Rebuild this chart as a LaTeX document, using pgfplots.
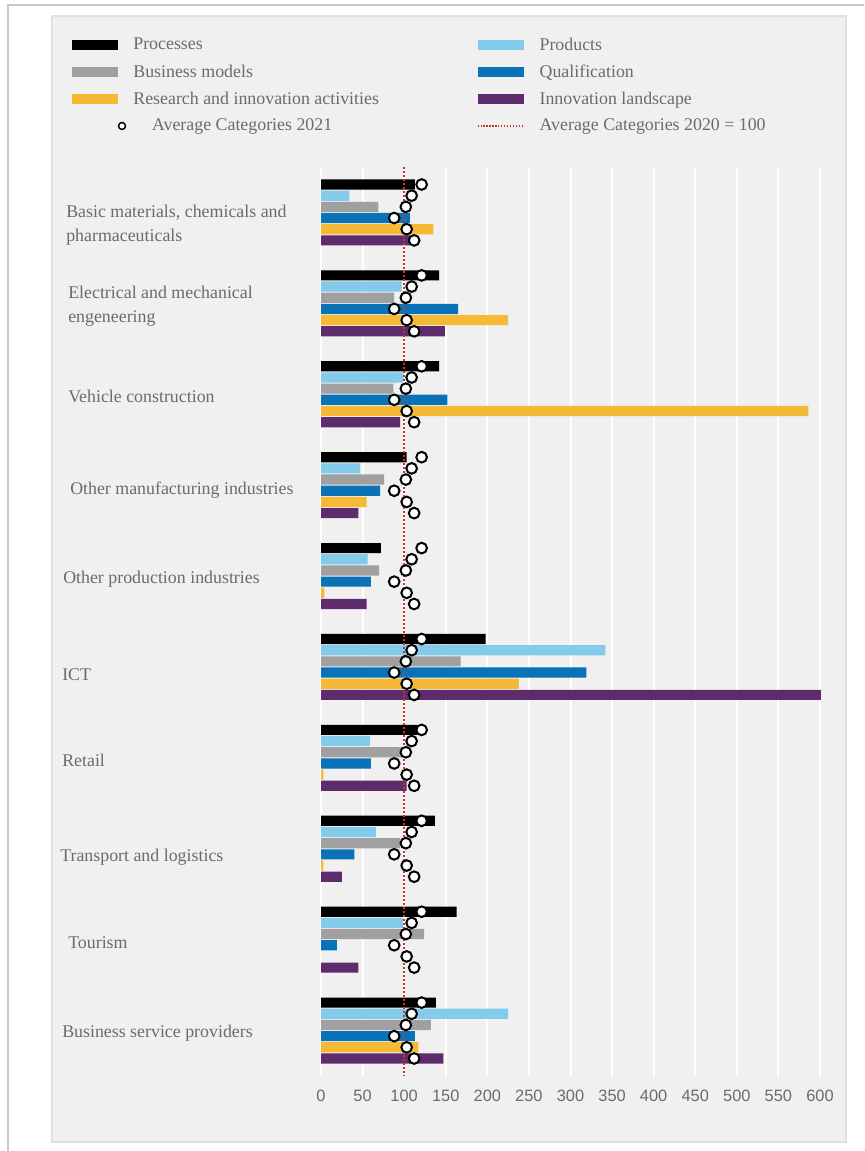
\documentclass[border=0pt]{standalone}
\usepackage{pgfplots}
\pgfplotsset{compat=1.18}
\usepackage{fontspec}
\setmainfont{Liberation Serif}
\newfontfamily\tickfont{Liberation Sans}
\definecolor{panel}{HTML}{F0F0F0}
\definecolor{panelborder}{HTML}{E0E0E0}
\definecolor{frameline}{HTML}{C8C8C8}
\definecolor{txt}{HTML}{6B6B6B}
\definecolor{cProc}{HTML}{000000}
\definecolor{cProd}{HTML}{82CBEA}
\definecolor{cBus}{HTML}{A0A0A0}
\definecolor{cQual}{HTML}{0A72B6}
\definecolor{cRes}{HTML}{F6B935}
\definecolor{cInn}{HTML}{5E2B6C}
\definecolor{cRed}{HTML}{C0392B}
\pgfplotsset{
  bleg/.style={legend image code/.code={\fill[#1] (0pt,-3.75pt) rectangle (34.5pt,3.75pt);}},
  mybar/.style={xbar, draw=none, fill=#1, bar width=0.112, bleg=#1},
}
\begin{document}
\begin{tikzpicture}
\useasboundingbox (0,0) rectangle (648pt,863.25pt);
\fill[white] (0,0) rectangle (648pt,863.25pt);
\draw[frameline, line width=1.5pt] (6pt,0) -- (6pt,859.5pt) -- (648pt,859.5pt);
\draw[panelborder, fill=panel, line width=1pt] (39pt,6.75pt) rectangle (634.5pt,851.25pt);
\begin{axis}[
  at={(240.75pt,56.25pt)}, anchor=south west,
  scale only axis, width=383.6pt, height=681.75pt,
  xmin=0, xmax=615, ymin=0.5, ymax=10.5, y dir=reverse,
  axis line style={draw=none},
  tick style={draw=none}, major tick length=0pt,
  xtick={0,50,...,600},
  xmajorgrids, grid style={white, line width=1.5pt},
  ytick={1,...,10},
  yticklabels={
    {\rule{0pt}{24pt}\hspace*{4.5pt}Basic materials, chemicals and\\\hspace*{4.5pt}pharmaceuticals},
    {\hspace*{6pt}Electrical and mechanical\\\hspace*{6pt}engeneering},
    {\hspace*{6pt}Vehicle construction},
    {\rule{0pt}{13pt}\hspace*{7.5pt}Other manufacturing industries},
    {\hspace*{2.25pt}Other production industries},
    {\rule{0pt}{17pt}\hspace*{1.5pt}ICT},
    {\hspace*{1.5pt}Retail},
    {\rule{0pt}{18pt}Transport and logistics},
    {\hspace*{6pt}Tourism},
    {\hspace*{1.5pt}Business service providers}},
  /pgf/number format/assume math mode=true,
  xticklabel style={font=\tickfont\fontsize{12.3}{14}\selectfont, text=txt, anchor=north, inner sep=0pt, yshift=-10pt},
  yticklabel style={font=\fontsize{13.4}{18}\selectfont, text=txt, anchor=west, align=left, inner sep=0pt, xshift=-195.75pt, yshift=-2pt},
  legend columns=2, legend cell align=left,
  legend style={draw=none, fill=none, at={(axis description cs:-0.4868,1.1452)}, anchor=north west,
    inner sep=0pt, outer sep=0pt, font=\fontsize{13.4}{16}\selectfont, text=txt, row sep=5.5pt,
    /tikz/every even column/.append style={column sep=71.5pt},
    /tikz/every odd column/.append style={column sep=9.5pt},
    /tikz/column 3/.append style={column sep=7.25pt}},
]
% order from top: Processes, Products, Business models, Qualification, Research, Innovation landscape
\addplot[mybar=cProc, bar shift=-0.3075] coordinates {
 (113,1) (142,2) (142,3) (103,4) (72,5) (198,6) (116,7) (137,8) (163,9) (138,10)};
\addlegendentry{Processes}
\addplot[mybar=cProd, bar shift=-0.1845] coordinates {
 (34,1) (97,2) (99,3) (47,4) (56,5) (342,6) (59,7) (66,8) (99,9) (225,10)};
\addlegendentry{Products}
\addplot[mybar=cBus, bar shift=-0.0615] coordinates {
 (69,1) (88,2) (87,3) (76,4) (70,5) (168,6) (97,7) (95,8) (124,9) (132,10)};
\addlegendentry{Business models}
\addplot[mybar=cQual, bar shift=0.0615] coordinates {
 (107,1) (165,2) (152,3) (71,4) (60,5) (319,6) (60,7) (40,8) (19,9) (113,10)};
\addlegendentry{Qualification}
\addplot[mybar=cRes, bar shift=0.1845] coordinates {
 (135,1) (225,2) (586,3) (55,4) (4,5) (238,6) (3,7) (3,8) (0,9) (117,10)};
\addlegendentry{Research and innovation activities}
\addplot[mybar=cInn, bar shift=0.3075] coordinates {
 (107,1) (149,2) (95,3) (45,4) (55,5) (601,6) (103,7) (25,8) (45,9) (147,10)};
\addlegendentry{Innovation landscape}
% average 2020 = 100
\addplot[cRed, line width=1.2pt, dash pattern=on 1.2pt off 1.8pt, forget plot] coordinates {(100,0.5) (100,10.5)};
% average categories 2021
\addplot[only marks, mark=*, mark size=4pt, mark options={fill=white, draw=black, line width=1.5pt},
  legend image code/.code={\draw[overlay, black, line width=1.1pt, fill=white] (37.5pt,0pt) circle (2.6pt);}]
 coordinates {
 (121,0.6925) (109,0.8155) (102,0.9385) (88,1.0615) (103,1.1845) (112,1.3075)
 (121,1.6925) (109,1.8155) (102,1.9385) (88,2.0615) (103,2.1845) (112,2.3075)
 (121,2.6925) (109,2.8155) (102,2.9385) (88,3.0615) (103,3.1845) (112,3.3075)
 (121,3.6925) (109,3.8155) (102,3.9385) (88,4.0615) (103,4.1845) (112,4.3075)
 (121,4.6925) (109,4.8155) (102,4.9385) (88,5.0615) (103,5.1845) (112,5.3075)
 (121,5.6925) (109,5.8155) (102,5.9385) (88,6.0615) (103,6.1845) (112,6.3075)
 (121,6.6925) (109,6.8155) (102,6.9385) (88,7.0615) (103,7.1845) (112,7.3075)
 (121,7.6925) (109,7.8155) (102,7.9385) (88,8.0615) (103,8.1845) (112,8.3075)
 (121,8.6925) (109,8.8155) (102,8.9385) (88,9.0615) (103,9.1845) (112,9.3075)
 (121,9.6925) (109,9.8155) (102,9.9385) (88,10.0615) (103,10.1845) (112,10.3075)};
\addlegendentry{\hspace*{14pt}Average Categories 2021}
\addlegendimage{legend image code/.code={\draw[cRed, line width=1pt, dash pattern=on 1pt off 1.2pt] (0pt,0pt) -- (34.5pt,0pt);}}
\addlegendentry{Average Categories 2020 = 100}
\end{axis}
\end{tikzpicture}
\end{document}
